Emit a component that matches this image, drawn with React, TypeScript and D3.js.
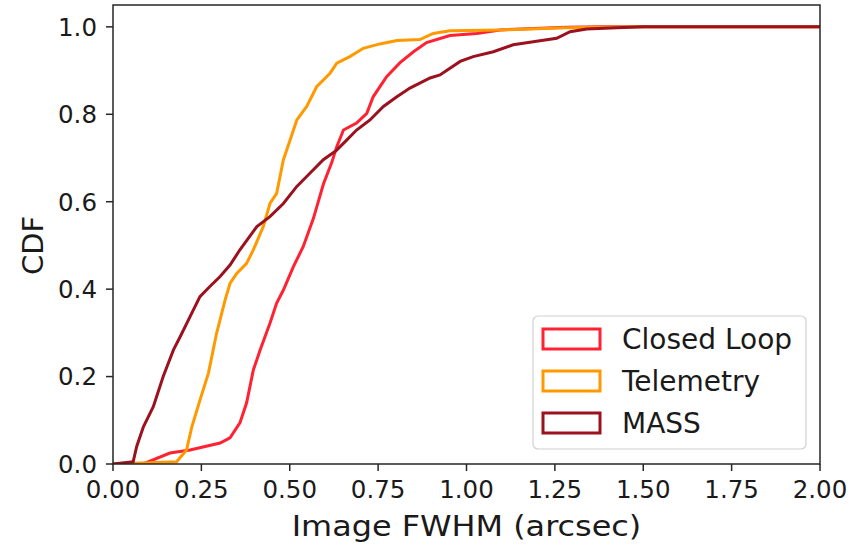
import React from "react";
import * as d3 from "d3";

// CDF samples: [FWHM arcsec, cumulative fraction]
const closedLoop: [number, number][] = [
  [0, 0], [0.085, 0], [0.161, 0.025], [0.218, 0.032], [0.303, 0.048],
  [0.331, 0.06], [0.359, 0.094], [0.378, 0.14], [0.397, 0.215],
  [0.416, 0.26], [0.444, 0.322], [0.463, 0.368], [0.482, 0.398],
  [0.51, 0.451], [0.538, 0.497], [0.567, 0.562], [0.595, 0.64],
  [0.619, 0.69], [0.633, 0.726], [0.652, 0.764], [0.689, 0.78],
  [0.718, 0.802], [0.736, 0.84], [0.774, 0.886], [0.812, 0.918],
  [0.85, 0.943], [0.887, 0.964], [0.953, 0.98], [1.029, 0.985],
  [1.095, 0.993], [1.283, 0.999], [1.38, 1], [2.0, 1],
];

const telemetry: [number, number][] = [
  [0, 0], [0.18, 0.005], [0.208, 0.032], [0.223, 0.085], [0.246, 0.146],
  [0.27, 0.208], [0.293, 0.299], [0.317, 0.375], [0.331, 0.413],
  [0.35, 0.436], [0.378, 0.459], [0.397, 0.49], [0.425, 0.543],
  [0.444, 0.596], [0.463, 0.619], [0.482, 0.696], [0.501, 0.741],
  [0.52, 0.787], [0.548, 0.818], [0.576, 0.863], [0.614, 0.894],
  [0.633, 0.917], [0.67, 0.932], [0.708, 0.951], [0.755, 0.961],
  [0.803, 0.969], [0.868, 0.971], [0.906, 0.985], [0.953, 0.991],
  [1.095, 0.993], [1.283, 0.998], [1.5, 1], [2.0, 1],
];

const mass: [number, number][] = [
  [0, 0], [0.057, 0.005], [0.067, 0.04], [0.086, 0.085], [0.114, 0.131],
  [0.142, 0.2], [0.171, 0.261], [0.19, 0.291], [0.218, 0.337],
  [0.246, 0.383], [0.274, 0.406], [0.303, 0.429], [0.331, 0.455],
  [0.359, 0.49], [0.407, 0.543], [0.444, 0.566], [0.482, 0.596],
  [0.52, 0.635], [0.557, 0.665], [0.595, 0.696], [0.633, 0.718],
  [0.661, 0.741], [0.689, 0.764], [0.727, 0.787], [0.765, 0.818],
  [0.803, 0.84], [0.84, 0.86], [0.897, 0.883], [0.925, 0.89],
  [0.982, 0.921], [1.019, 0.932], [1.076, 0.943], [1.132, 0.959],
  [1.189, 0.966], [1.255, 0.974], [1.293, 0.989], [1.34, 0.995],
  [1.425, 0.998], [1.5, 1], [2.0, 1],
];

const seriesNames = ["Closed Loop", "Telemetry", "MASS"];
const seriesColors = ["#ff2233", "#ff9900", "#9b111e"];
const seriesData = [closedLoop, telemetry, mass];

const xTicks = [0, 0.25, 0.5, 0.75, 1.0, 1.25, 1.5, 1.75, 2.0];
const yTicks = [0, 0.2, 0.4, 0.6, 0.8, 1.0];

export default function App() {
  const width = 854;
  const height = 545;
  const left = 113;
  const right = 820;
  const top = 5;
  const bottom = 464;

  const x = d3.scaleLinear().domain([0, 2]).range([left, right]);
  const y = d3.scaleLinear().domain([0, 1.05]).range([bottom, top]);

  const line = d3
    .line<[number, number]>()
    .x((d) => x(d[0]))
    .y((d) => y(d[1]))
    .curve(d3.curveLinear);

  const font = "DejaVu Sans";
  const axisColor = "#262626";
  const textColor = "#1a1a1a";

  return (
    <svg
      width={width}
      height={height}
      style={{ position: "absolute", left: 0, top: 0, background: "#fff" }}
      fontFamily={font}
    >
      <defs>
        <clipPath id="plot">
          <rect x={left} y={top} width={right - left} height={bottom - top} />
        </clipPath>
      </defs>

      <g clipPath="url(#plot)">
        {seriesData.map((d, i) => (
          <path
            key={seriesNames[i]}
            d={line(d) ?? ""}
            fill="none"
            stroke={seriesColors[i]}
            strokeWidth={3}
          />
        ))}
      </g>

      {/* frame */}
      <rect
        x={left}
        y={top}
        width={right - left}
        height={bottom - top}
        fill="none"
        stroke={axisColor}
        strokeWidth={1.5}
      />

      {/* x axis */}
      {xTicks.map((t) => (
        <g key={"x" + t} transform={`translate(${x(t)},${bottom})`}>
          <line y1={0} y2={7} stroke={axisColor} strokeWidth={1.5} />
          <text y={34} textAnchor="middle" fontSize={24.5} fill={textColor}>
            {t.toFixed(2)}
          </text>
        </g>
      ))}
      <text
        transform={`translate(${(left + right) / 2},536) scale(1.1,1)`}
        textAnchor="middle"
        fontSize={29}
        fill={textColor}
      >
        Image FWHM (arcsec)
      </text>

      {/* y axis */}
      {yTicks.map((t) => (
        <g key={"y" + t} transform={`translate(${left},${y(t)})`}>
          <line x1={0} x2={-7} stroke={axisColor} strokeWidth={1.5} />
          <text
            x={-16}
            dy="0.36em"
            textAnchor="end"
            fontSize={24.5}
            fill={textColor}
          >
            {t.toFixed(1)}
          </text>
        </g>
      ))}
      <text
        transform={`translate(43,${y(0.5)}) rotate(-90)`}
        textAnchor="middle"
        fontSize={29}
        fill={textColor}
      >
        CDF
      </text>

      {/* legend */}
      <g>
        <rect
          x={533}
          y={316}
          width={273}
          height={133}
          rx={5}
          fill="#fff"
          fillOpacity={0.8}
          stroke="#d0d0d0"
          strokeWidth={1.2}
        />
        {seriesNames.map((name, i) => (
          <g key={name} transform={`translate(0,${i * 42})`}>
            <rect
              x={543}
              y={329}
              width={57}
              height={20}
              fill="none"
              stroke={seriesColors[i]}
              strokeWidth={3}
            />
            <text x={622} y={348.5} fontSize={28} fill={textColor}>
              {name}
            </text>
          </g>
        ))}
      </g>
    </svg>
  );
}
